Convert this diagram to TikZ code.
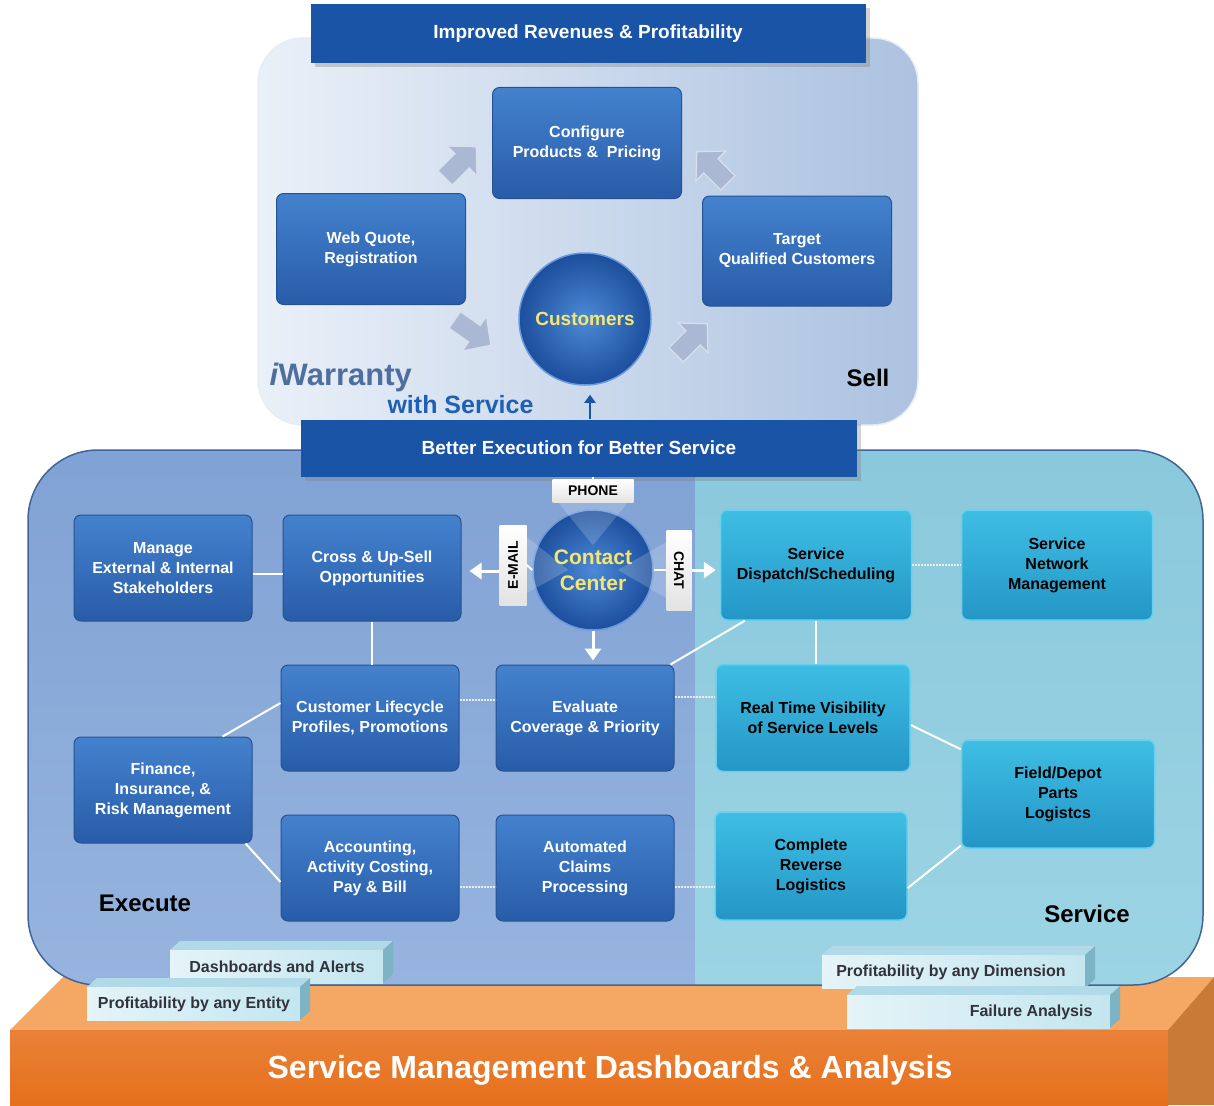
\documentclass[tikz,border=0pt]{standalone}
\usepackage{fontspec}
\setmainfont{Liberation Sans}
\usepackage{xcolor}
\usepackage{tikz}
\usetikzlibrary{arrows.meta, positioning, calc, shadows}
\definecolor{bannerblue}{RGB}{26,84,166}
\definecolor{execlight}{RGB}{68,130,206}
\definecolor{execdark}{RGB}{40,92,168}
\definecolor{execedge}{RGB}{38,82,148}
\definecolor{servlight}{RGB}{62,190,228}
\definecolor{servdark}{RGB}{36,150,198}
\definecolor{servedge}{RGB}{104,208,236}
\definecolor{selllight}{RGB}{234,240,248}
\definecolor{selldark}{RGB}{172,194,224}
\definecolor{execzone}{RGB}{128,162,212}
\definecolor{execzonelt}{RGB}{150,180,222}
\definecolor{servzone}{RGB}{138,200,220}
\definecolor{servzonelt}{RGB}{156,212,228}
\definecolor{panelrim}{RGB}{66,100,152}
\definecolor{orangetop}{RGB}{245,168,100}
\definecolor{orangefront}{RGB}{230,112,28}
\definecolor{orangeside}{RGB}{200,122,54}
\definecolor{tabfront}{RGB}{196,230,239}
\definecolor{tabtop}{RGB}{176,218,231}
\definecolor{tabside}{RGB}{124,180,198}
\definecolor{tabink}{RGB}{50,50,60}
\definecolor{fatgrey}{RGB}{170,184,212}
\definecolor{hubyellow}{RGB}{246,230,112}
\definecolor{hublight}{RGB}{76,138,214}
\definecolor{hubdark}{RGB}{28,78,156}
\definecolor{hubrim}{RGB}{104,152,222}
\definecolor{brandgrey}{RGB}{78,110,160}
\definecolor{brandblue}{RGB}{30,96,182}
\newcommand{\bxfont}{\bfseries\fontsize{16}{20}\selectfont}
\newcommand{\bnfont}{\bfseries\fontsize{19}{22}\selectfont}
\newcommand{\tgfont}{\bfseries\fontsize{14}{16}\selectfont}
\newcommand{\lbfont}{\bfseries\fontsize{24}{28}\selectfont}
\newcommand{\fatarrow}[3]{%
  \begin{scope}[shift={(#1,#2)}, rotate=#3]
    \filldraw[fill=fatgrey, draw=white!55!fatgrey, line width=1.2pt]
      (-21,-10) -- (3,-10) -- (3,-21) -- (23,0) -- (3,21) -- (3,10) -- (-21,10) -- cycle;
  \end{scope}}
\newcommand{\tabblock}[4]{%
  \fill[tabtop] (#1,#2) -- (#1+10,#2-9) -- (#3+10,#2-9) -- (#3,#2) -- cycle;
  \shade[left color=tabfront!45!white, right color=tabfront] (#1,#2) rectangle (#3,#4);
  \fill[tabside] (#3,#2) -- (#3+10,#2-9) -- (#3+10,#4-9) -- (#3,#4) -- cycle;}
\tikzset{
  execbox/.style={rectangle, rounded corners=7pt, top color=execlight, bottom color=execdark,
    draw=execedge, line width=1pt, minimum width=178pt, minimum height=106pt,
    text=white, align=center, font=\bxfont},
  servbox/.style={rectangle, rounded corners=7pt, top color=servlight, bottom color=servdark,
    draw=servedge, line width=1.5pt, minimum width=192pt, minimum height=108pt,
    text=black, align=center, font=\bxfont},
  banner/.style={rectangle, fill=bannerblue, text=white, minimum width=556pt,
    minimum height=58pt, font=\bnfont,
    drop shadow={shadow xshift=4pt, shadow yshift=-4pt, opacity=0.35}},
  hub/.style={circle, inner color=hublight, outer color=hubdark, draw=hubrim,
    line width=1.5pt, text=hubyellow, align=center},
  tag/.style={rectangle, top color=white, bottom color=gray!22, text=black,
    font=\tgfont, inner sep=0pt},
  link/.style={white, line width=2pt},
  dotlink/.style={white!85!gray, line width=2.5pt, dash pattern=on 2pt off 1pt},
  whitearrow/.style={-{Triangle[width=16pt,length=12pt]}, white, line width=3pt},
  zonelabel/.style={font=\lbfont, text=black},
  tabtext/.style={font=\bxfont, text=tabink}
}
\begin{document}
\begin{tikzpicture}[x=1pt, y=-1pt]
  \useasboundingbox (0,0) rectangle (1214,1105);

  % Orange base
  \fill[orangetop] (63,977) -- (1214,977) -- (1168,1030) -- (10,1030) -- cycle;
  \shade[top color=orangefront!88!white, bottom color=orangefront] (10,1030) rectangle (1168,1105);
  \fill[orangeside] (1168,1030) -- (1214,977) -- (1214,1105) -- (1168,1105) -- cycle;

  % Execute / Service panel
  \begin{scope}
    \clip[rounded corners=70pt] (28,450) rectangle (1203,985);
    \shade[top color=execzone, bottom color=execzonelt] (28,450) rectangle (695,985);
    \shade[top color=servzone, bottom color=servzonelt] (695,450) rectangle (1203,985);
  \end{scope}
  \draw[panelrim, line width=1.5pt, rounded corners=70pt] (28,450) rectangle (1203,985);

  % Dashboard tabs
  \tabblock{170}{950}{383}{983}
  \tabblock{87}{987}{300}{1020}
  \tabblock{822}{955}{1085}{988}
  \tabblock{847}{995}{1110}{1028}
  \node[tabtext] (tabalerts) at (277,967) {Dashboards and Alerts};
  \node[tabtext] (tabentity) at (194,1004) {Profitability by any Entity};
  \node[tabtext] (tabdimension) at (951,972) {Profitability by any Dimension};
  \node[tabtext, anchor=east] (tabfailure) at (1096,1012) {Failure Analysis};

  \node[font=\bfseries\fontsize{32}{36}\selectfont, text=white] (title) at (610,1070) {Service Management Dashboards \& Analysis};

  % Sell panel
  \shade[left color=selllight, right color=selldark, rounded corners=45pt] (258,38) rectangle (918,425);
  \draw[white!70!selldark, line width=1.5pt, rounded corners=45pt] (258,38) rectangle (918,425);

  \node[banner, minimum width=555pt, minimum height=59pt] (revenue) at (588,34) {Improved Revenues \& Profitability};
  \node[banner, minimum height=57pt] (better) at (579,448) {Better Execution for Better Service};

  \node[font=\bfseries\fontsize{31}{36}\selectfont, text=brandgrey, anchor=west] (brand) at (266,377) {\textit{i}Warranty};
  \node[font=\bfseries\fontsize{25}{30}\selectfont, text=brandblue, anchor=west] (brandsub) at (384,405) {with Service};
  \node[zonelabel] (sell) at (868,378) {Sell};
  \node[zonelabel] (execute) at (145,903) {Execute};
  \node[zonelabel] (service) at (1087,914) {Service};

  % Sell cycle
  \node[execbox, minimum width=189pt, minimum height=111pt] (configure) at (587,143) {Configure\\Products \&~ Pricing};
  \node[execbox, minimum width=189pt, minimum height=111pt] (webquote) at (371,249) {Web Quote,\\Registration};
  \node[execbox, minimum width=189pt, minimum height=110pt] (target) at (797,251) {Target\\Qualified Customers};
  \node[hub, minimum size=132pt, font=\bfseries\fontsize{19}{22}\selectfont] (cust) at (585,319) {Customers};
  \fatarrow{460}{163}{45}
  \fatarrow{713}{168}{135}
  \fatarrow{472}{332}{-35}
  \fatarrow{691}{340}{45}
  \draw[-{Triangle[width=11pt,length=8pt]}, bannerblue, line width=2.5pt, shorten >=9pt]
    ([xshift=5pt]better.north -| cust.south) -- ([xshift=5pt]cust.south);

  % Execute blocks
  \node[execbox] (manage) at (163,568) {Manage\\External \& Internal\\Stakeholders};
  \node[execbox] (crosssell) at (372,568) {Cross \& Up-Sell\\Opportunities};
  \node[execbox] (lifecycle) at (370,718) {Customer Lifecycle\\Profiles, Promotions};
  \node[execbox] (evaluate) at (585,718) {Evaluate\\Coverage \& Priority};
  \node[execbox] (finance) at (163,790) {Finance,\\Insurance, \&\\Risk Management};
  \node[execbox] (accounting) at (370,868) {Accounting,\\Activity Costing,\\Pay \& Bill};
  \node[execbox] (claims) at (585,868) {Automated\\Claims\\Processing};

  % Service blocks
  \node[servbox, minimum width=191pt, minimum height=110pt] (dispatch) at (816,565) {Service\\Dispatch/Scheduling};
  \node[servbox, minimum width=191pt, minimum height=110pt] (network) at (1057,565) {Service\\Network\\Management};
  \node[servbox, minimum width=194pt, minimum height=107pt] (visibility) at (813,718) {Real Time Visibility\\of Service Levels};
  \node[servbox, minimum width=193pt] (parts) at (1058,794) {Field/Depot\\Parts\\Logistcs};
  \node[servbox] (reverse) at (811,866) {Complete\\Reverse\\Logistics};

  % Contact center
  \node[tag, minimum width=81pt, minimum height=23pt] (phone) at (593,491) {PHONE};
  \node[tag, minimum width=80pt, minimum height=27pt, rotate=90] (email) at (513,565) {E-MAIL};
  \node[tag, minimum width=80pt, minimum height=25pt, rotate=-90] (chat) at (679,570) {CHAT};
  \node[hub, minimum size=120pt, font=\bfseries\fontsize{21}{26}\selectfont] (contact) at (593,570) {Contact\\Center};
  \fill[white, opacity=0.18] ([xshift=6pt]phone.south west) -- ([xshift=-6pt]phone.south east) -- ([yshift=-36pt]contact.north) -- cycle;
  \fill[white, opacity=0.18] ([yshift=28pt]email.south) -- ([yshift=-28pt]email.south) -- ([xshift=36pt]contact.west) -- cycle;
  \fill[white, opacity=0.18] ([yshift=28pt]chat.south) -- ([yshift=-28pt]chat.south) -- ([xshift=-36pt]contact.east) -- cycle;

  % Path lines
  \draw[link] (better.south -| phone.north) -- (phone.north);
  \draw[link] (contact.west) -- (email.south);
  \draw[link] (contact.east) -- (chat.south);
  \draw[whitearrow, shorten >=8pt] ([yshift=-6pt]email.north) -- ([yshift=-6pt]email.north -| crosssell.east);
  \draw[whitearrow, shorten >=4pt] (chat.north) -- (chat.north -| dispatch.west);
  \draw[whitearrow, shorten >=4pt] (contact.south) -- (contact.south |- evaluate.north);

  \draw[link] ([yshift=-6pt]manage.east) -- ([yshift=-6pt]manage.east -| crosssell.west);
  \draw[link] (crosssell.south) -- (crosssell.south |- lifecycle.north);
  \draw[link] ([xshift=-30pt]finance.north east) -- ([yshift=15pt]lifecycle.west);
  \draw[link] ([xshift=-7pt]finance.south east) -- ([yshift=-14pt]accounting.west);
  \draw[dotlink] ([yshift=18pt]lifecycle.east) -- ([yshift=18pt]lifecycle.east -| evaluate.west);
  \draw[dotlink] ([yshift=-19pt]accounting.east) -- ([yshift=-19pt]accounting.east -| claims.west);
  \draw[dotlink] ([yshift=-19pt]claims.east) -- ([yshift=-19pt]claims.east -| reverse.west);
  \draw[dotlink] ([yshift=21pt]evaluate.east) -- ([yshift=21pt]evaluate.east -| visibility.west);
  \draw[link] ([xshift=-4pt]evaluate.north east) -- ([xshift=25pt]dispatch.south west);
  \draw[dotlink] (dispatch.east) -- (network.west);
  \draw[link] (dispatch.south) -- (dispatch.south |- visibility.north);
  \draw[link] ([yshift=-7pt]visibility.east) -- ([yshift=-10pt]parts.north west);
  \draw[link] ([yshift=-22pt]reverse.east) -- ([yshift=3pt]parts.south west);
\end{tikzpicture}
\end{document}
